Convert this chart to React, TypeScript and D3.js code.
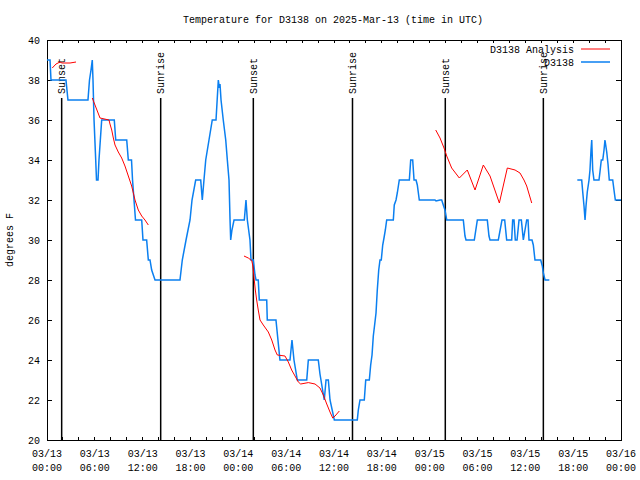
import React from 'react';
import * as d3 from 'd3';

// hours since 03/13 00:00 UTC, temperature in F
const obsPart1: [number, number][] = [
  [0.0, 39], [0.38, 39], [0.5, 38], [2.38, 38], [2.63, 37], [5.14, 37], [5.33, 38], [5.52, 38.5],
  [5.68, 39], [5.77, 38], [5.9, 36], [6.11, 34], [6.21, 33], [6.4, 33], [6.52, 34], [6.86, 36],
  [8.44, 36], [8.62, 35], [10.0, 35], [10.2, 34], [10.6, 34], [10.73, 33], [11.1, 31], [11.88, 31],
  [12.04, 30], [12.5, 30], [12.71, 29], [12.92, 29], [13.13, 28.5], [13.55, 28], [16.68, 28],
  [16.97, 29], [17.44, 30], [17.94, 31], [18.19, 32], [18.65, 33], [19.28, 33], [19.48, 32],
  [19.69, 33], [19.91, 34], [20.32, 35], [20.73, 36], [21.2, 36], [21.49, 38], [21.62, 37.6],
  [21.7, 37.8], [21.83, 37], [22.11, 36], [22.42, 35], [22.62, 34], [22.83, 33], [22.96, 31],
  [23.04, 30], [23.2, 30.5], [23.46, 31], [24.75, 31], [24.96, 32], [25.13, 31], [25.46, 30],
  [25.59, 29], [25.88, 29], [26.09, 28.25], [26.22, 28], [26.5, 28], [26.63, 27], [27.56, 27],
  [27.63, 26], [28.72, 26], [29.22, 24], [30.48, 24], [30.73, 25], [30.98, 24], [31.4, 23],
  [32.58, 23], [32.78, 24], [34.03, 24], [34.24, 23.3], [34.78, 22], [35.0, 23], [35.29, 23],
  [35.5, 22], [36.04, 21], [38.92, 21], [39.05, 21.5], [39.26, 22], [39.8, 22], [39.98, 23],
  [40.43, 23], [40.6, 23.75], [40.77, 24.25], [40.93, 25.2], [41.11, 25.8], [41.27, 26.35],
  [41.43, 27.5], [41.61, 28.5], [41.77, 29], [41.93, 29], [42.11, 29.75], [42.27, 30.1],
  [42.44, 30.5], [42.61, 31], [43.44, 31], [43.56, 31.75], [43.78, 32], [43.94, 32.35],
  [44.19, 33], [45.45, 33], [45.62, 34], [45.87, 34], [46.04, 33], [46.29, 33], [46.45, 32.75],
  [46.7, 32], [48.67, 32], [48.8, 31.95], [49.3, 32], [49.51, 32], [49.71, 31.75], [49.92, 31.5],
  [50.14, 31], [52.22, 31], [52.43, 30.2], [52.56, 30], [53.6, 30], [53.98, 31], [55.23, 31],
  [55.44, 30.2], [55.57, 30], [56.61, 30], [57.07, 31], [57.41, 31], [57.66, 30], [58.29, 30],
  [58.41, 31], [58.58, 31], [58.74, 30], [58.96, 30], [59.21, 31], [59.5, 31], [59.75, 30],
  [60.17, 31], [60.34, 31], [60.46, 30], [60.84, 30], [61.0, 29.75], [61.21, 29], [61.93, 29],
  [62.13, 28.7], [62.26, 28.35], [62.47, 28], [63.01, 28],
];

const obsPart2: [number, number][] = [
  [66.52, 33], [67.07, 33], [67.2, 32.4], [67.36, 31.7], [67.49, 31], [67.61, 31.7], [67.77, 32.4],
  [67.99, 33], [68.11, 33.5], [68.24, 34.5], [68.33, 35], [68.45, 33.5], [68.61, 33], [69.24, 33],
  [69.36, 33.4], [69.53, 34], [69.71, 34], [69.87, 34.5], [69.99, 35], [70.21, 34.4], [70.37, 33.8],
  [70.53, 33], [70.96, 33], [71.12, 32.5], [71.29, 32], [72.0, 32],
];

const anaPart1: [number, number][] = [
  [0.66, 38.6], [1.13, 38.8], [1.63, 38.9], [1.88, 38.85], [2.89, 38.85], [3.64, 38.9],
];

const anaPart2: [number, number][] = [
  [5.68, 37.1], [6.65, 36.1], [7.78, 36], [7.9, 35.8], [8.12, 35.5], [8.32, 35.1], [8.53, 34.75],
  [8.94, 34.4], [9.37, 34.1], [9.78, 33.7], [10.2, 33.2], [10.62, 32.7], [11.04, 32], [11.45, 31.5],
  [11.88, 31.2], [12.29, 31], [12.71, 30.75],
];

const anaPart3: [number, number][] = [
  [24.71, 29.2], [25.25, 29.1], [25.68, 28.97], [25.8, 28.75], [25.88, 28.5], [26.0, 28],
  [26.13, 27.5], [26.3, 27], [26.5, 26.5], [26.72, 26], [27.13, 25.75], [27.76, 25.4], [28.19, 25],
  [28.6, 24.5], [28.89, 24.25], [29.85, 24.2], [30.27, 23.9], [30.69, 23.5], [31.11, 23.2],
  [31.52, 22.9], [31.82, 22.8], [32.78, 22.87], [33.62, 22.8], [34.24, 22.6], [34.66, 22.25],
  [35.09, 21.8], [35.5, 21.4], [35.84, 21.1], [36.13, 21.2], [36.67, 21.45],
];

const anaPart4: [number, number][] = [
  [48.76, 35.5], [49.3, 35.1], [49.8, 34.6], [50.14, 34.2], [50.76, 33.6], [51.72, 33.1],
  [52.72, 33.5], [53.69, 32.5], [54.73, 33.75], [55.57, 33.2], [56.74, 31.85], [57.74, 33.6],
  [58.71, 33.5], [59.33, 33.35], [59.83, 33], [60.17, 32.7], [60.8, 31.85],
];

const sunEvents: { t: number; label: string }[] = [
  { t: 1.84, label: 'Sunset' },
  { t: 14.26, label: 'Sunrise' },
  { t: 25.88, label: 'Sunset' },
  { t: 38.32, label: 'Sunrise' },
  { t: 49.96, label: 'Sunset' },
  { t: 62.26, label: 'Sunrise' },
];

const xTickHours = [0, 6, 12, 18, 24, 30, 36, 42, 48, 54, 60, 66, 72];
const xTickDays = ['03/13', '03/13', '03/13', '03/13', '03/14', '03/14', '03/14', '03/14', '03/15', '03/15', '03/15', '03/15', '03/16'];
const xTickTimes = ['00:00', '06:00', '12:00', '18:00', '00:00', '06:00', '12:00', '18:00', '00:00', '06:00', '12:00', '18:00', '00:00'];
const yTicks = [20, 22, 24, 26, 28, 30, 32, 34, 36, 38, 40];

const FONT = '"Liberation Mono", "DejaVu Sans Mono", monospace';
const BLUE = '#0a7ff0';
const RED = '#ff0000';

export default function App() {
  const width = 640;
  const height = 480;
  const left = 47, right = 621, top = 40, bottom = 440;

  const x = d3.scaleLinear().domain([0, 72]).range([left, right]);
  const y = d3.scaleLinear().domain([20, 40]).range([bottom, top]);
  const line = d3.line<[number, number]>().x(d => x(d[0])).y(d => y(d[1]));

  // small tics every 2 hours along top and bottom
  const minorTicks = d3.range(0, 73, 2);

  return (
    <svg width={width} height={height} style={{ position: 'absolute', left: 0, top: 0, background: 'white' }}
      fontFamily={FONT} fontSize={10}>
      <rect x={0} y={0} width={width} height={height} fill="white" />
      <text x={333} y={23} textAnchor="middle">Temperature for D3138 on 2025-Mar-13 (time in UTC)</text>

      <rect x={left} y={top} width={right - left} height={bottom - top} fill="none" stroke="black" strokeWidth={1} shapeRendering="crispEdges" />

      {yTicks.map(v => (
        <g key={v}>
          <line x1={left} x2={left + 5} y1={y(v)} y2={y(v)} stroke="black" shapeRendering="crispEdges" />
          <line x1={right - 5} x2={right} y1={y(v)} y2={y(v)} stroke="black" shapeRendering="crispEdges" />
          <text x={40} y={y(v)} dy="0.35em" textAnchor="end">{v}</text>
        </g>
      ))}

      {minorTicks.map(h => (
        <g key={h}>
          <line x1={x(h)} x2={x(h)} y1={bottom} y2={bottom - 3} stroke="black" shapeRendering="crispEdges" />
          <line x1={x(h)} x2={x(h)} y1={top} y2={top + 3} stroke="black" shapeRendering="crispEdges" />
        </g>
      ))}
      {xTickHours.map((h, i) => (
        <g key={h}>
          <text x={x(h)} y={457} textAnchor="middle">{xTickDays[i]}</text>
          <text x={x(h)} y={471} textAnchor="middle">{xTickTimes[i]}</text>
        </g>
      ))}

      <text transform="translate(13,240) rotate(-90)" textAnchor="middle">degrees F</text>

      {sunEvents.map((s, i) => (
        <g key={i}>
          <line x1={x(s.t)} x2={x(s.t)} y1={98} y2={bottom} stroke="black" strokeWidth={1.5} />
          <text transform={`translate(${x(s.t)},94) rotate(-90)`} dy="0.35em">{s.label}</text>
        </g>
      ))}

      {[obsPart1, obsPart2].map((seg, i) => (
        <path key={'o' + i} d={line(seg) ?? ''} fill="none" stroke={BLUE} strokeWidth={1.5} />
      ))}
      {[anaPart1, anaPart2, anaPart3, anaPart4].map((seg, i) => (
        <path key={'a' + i} d={line(seg) ?? ''} fill="none" stroke={RED} strokeWidth={1} />
      ))}

      <text x={574} y={53} textAnchor="end">D3138 Analysis</text>
      <line x1={581} x2={610} y1={49} y2={49} stroke={RED} strokeWidth={1} />
      <text x={574} y={66} textAnchor="end">D3138</text>
      <line x1={581} x2={610} y1={62} y2={62} stroke={BLUE} strokeWidth={1.5} />
    </svg>
  );
}
